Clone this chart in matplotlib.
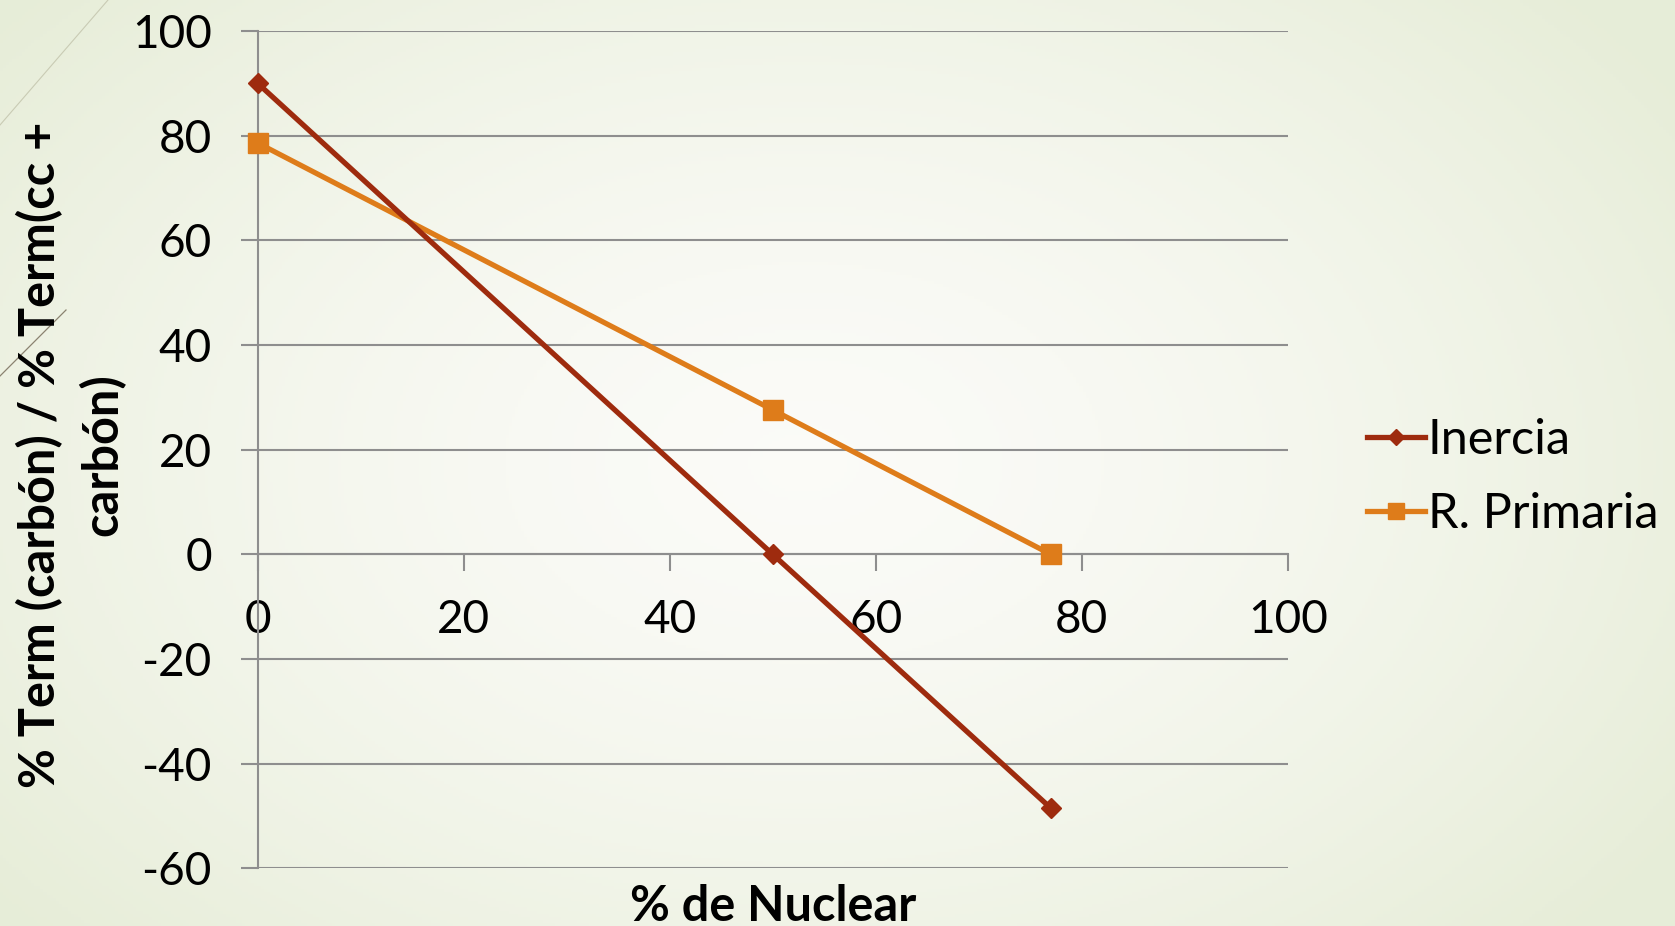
# подключаем необходимые библиотеки:

import numpy as np # работа с массивами
import matplotlib
matplotlib.use('Agg')
import matplotlib.pyplot as plt # построение графиков
from matplotlib.lines import Line2D # декоративные линии на фоне

# исходные данные:

nuclear = [0, 50, 77] # доля ядерной генерации, %
inercia = [90, 0, -48.5] # серия "Inercia"
r_primaria = [78.6, 27.6, 0] # серия "R. Primaria"
series_names = ['Inercia', 'R. Primaria']
x_ticks = [0, 20, 40, 60, 80, 100]
y_ticks = [-60, -40, -20, 0, 20, 40, 60, 80, 100]

# оформление:

plt.rcParams['font.family'] = ['Lato', 'DejaVu Sans']
plt.rcParams['axes.unicode_minus'] = False # обычный дефис вместо минуса
W, H = 1675, 926 # размер картинки в пикселях
c_inercia = '#9E2B0E'
c_primaria = '#DE7C1A'
c_grid = '#8E8E8E'
fs = 33 # размер шрифта

fig = plt.figure(figsize=(W/100, H/100), dpi=100)

# фон - радиальный градиент от светлого центра к зеленоватым краям:
bg = fig.add_axes([0, 0, 1, 1], zorder=-10)
yy, xx = np.mgrid[0:1:300j, 0:1:540j]
d = np.sqrt(((xx - 0.48)/0.62)**2 + ((yy - 0.5)/0.75)**2)
d = np.clip(d, 0, 1)
c0 = np.array([0.985, 0.985, 0.972])
c1 = np.array([0.905, 0.930, 0.848])
img = c0 + (c1 - c0)*d[..., None]**1.5
bg.imshow(img, extent=[0, 1, 0, 1], aspect='auto', origin='lower')
bg.axis('off')

# тонкие диагональные линии в левом верхнем углу:
fig.add_artist(Line2D([108/W, 0], [1, 1 - 125/H], transform=fig.transFigure, color='#C9CBB4', lw=0.8))
fig.add_artist(Line2D([66/W, 0], [1 - 310/H, 1 - 376/H], transform=fig.transFigure, color='#8A8270', lw=0.9))

# основная область графика:
ax = fig.add_axes([257.7/W, 1 - 868.3/H, 1030/W, (868.3 - 31)/H])
ax.set_facecolor('none')

ax.plot(nuclear, inercia, color=c_inercia, lw=3.8, marker='D', ms=10, label=series_names[0], clip_on=False, zorder=4)
ax.plot(nuclear, r_primaria, color=c_primaria, lw=3.8, marker='s', ms=14, label=series_names[1], clip_on=False, zorder=3)

ax.set_xlim(0, 100)
ax.set_ylim(-60, 100)
ax.set_xticks(x_ticks)
ax.set_yticks(y_ticks)

# оси: ось x проходит через y = 0
ax.spines['top'].set_visible(False)
ax.spines['right'].set_visible(False)
ax.spines['bottom'].set_position(('data', 0))
for s in ['left', 'bottom']:
    ax.spines[s].set_color(c_grid)
    ax.spines[s].set_linewidth(1.5)

ax.grid(axis='y', color=c_grid, lw=1.5)
ax.grid(axis='x', visible=False)
ax.set_axisbelow(True)
ax.tick_params(axis='both', length=12, width=1.5, color=c_grid, labelsize=fs)
ax.tick_params(axis='y', pad=21)
ax.tick_params(axis='x', pad=20)

# подписи осей:
fig.text(71/W, 1 - 455/H, '% Term (carbón) / % Term(cc +\ncarbón)', rotation=90, ha='center', va='center',
         fontsize=35, fontweight='bold', linespacing=1.4)
fig.text(772.7/W, 5/H, '% de Nuclear', ha='center', va='baseline', fontsize=35, fontweight='bold')

# легенда справа:
fig.legend(loc='center left', bbox_to_anchor=(1367/W, 1 - 477/H), frameon=False, fontsize=35,
           handlelength=1.2, handletextpad=0.05, labelspacing=0.62, borderaxespad=0, borderpad=0,
           markerscale=0.85)

fig.savefig('out.png', dpi=100)
